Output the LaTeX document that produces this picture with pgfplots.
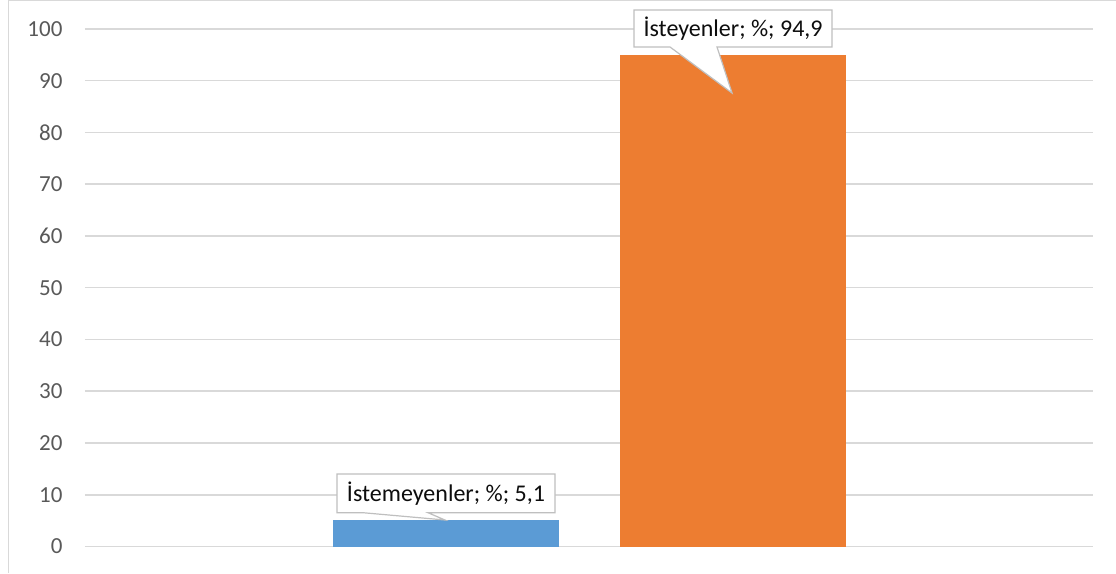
\documentclass[border=0pt]{standalone}
\usepackage{pgfplots}
\pgfplotsset{compat=1.18}
\usepackage{fontspec}
\setmainfont{Carlito}
\definecolor{barblue}{RGB}{91,155,213}
\definecolor{barorange}{RGB}{237,125,49}
\definecolor{gridgray}{RGB}{217,217,217}
\definecolor{ticktext}{RGB}{89,89,89}
\definecolor{calloutgray}{RGB}{191,191,191}
\begin{document}
\begin{tikzpicture}[x=1pt,y=1pt]
\useasboundingbox (0,0) rectangle (1116,573);
\draw[gridgray, line width=1.5pt] (8.5,0) -- (8.5,572.5) -- (1116,572.5);
\begin{axis}[
  at={(85pt,26.5pt)}, anchor=south west,
  scale only axis, width=1008pt, height=517.5pt,
  xmin=0, xmax=1, ymin=0, ymax=100,
  ybar, bar shift=0pt, bar width=0.2242,
  axis line style={draw=none},
  xtick=\empty,
  ytick={0,10,...,100},
  major tick length=0pt,
  ymajorgrids, grid style={gridgray, line width=1.5pt},
  tick label style={font=\fontsize{23}{27}\selectfont, text=ticktext},
  yticklabel style={xshift=-19pt},
  /pgf/number format/assume math mode=true,
  clip=false,
]
\addplot[fill=barblue, draw=none] coordinates {(0.3581,5.1)};
\addplot[fill=barorange, draw=none] coordinates {(0.6424,94.9)};
% callout for Istemeyenler
\draw[calloutgray, line width=1.2pt, fill=white, line join=miter]
  (axis cs:0.2500,14.01) -- (axis cs:0.4663,14.01) -- (axis cs:0.4663,6.53)
  -- (axis cs:0.3403,6.53) -- (axis cs:0.3571,5.12) -- (axis cs:0.2758,6.53)
  -- (axis cs:0.2500,6.53) -- cycle;
\node[font=\fontsize{24}{28}\selectfont, text=black!95, inner sep=0pt]
  at (axis cs:0.3581,10.28) {İstemeyenler; \%; 5,1};
% callout for Isteyenler
\draw[calloutgray, line width=1.2pt, fill=white, line join=miter]
  (axis cs:0.5446,103.67) -- (axis cs:0.7411,103.67) -- (axis cs:0.7411,96.52)
  -- (axis cs:0.6270,96.52) -- (axis cs:0.6419,87.63) -- (axis cs:0.5804,96.52)
  -- (axis cs:0.5446,96.52) -- cycle;
\node[font=\fontsize{24}{28}\selectfont, text=black!95, inner sep=0pt]
  at (axis cs:0.6429,100.0) {İsteyenler; \%; 94,9};
\end{axis}
\end{tikzpicture}
\end{document}
